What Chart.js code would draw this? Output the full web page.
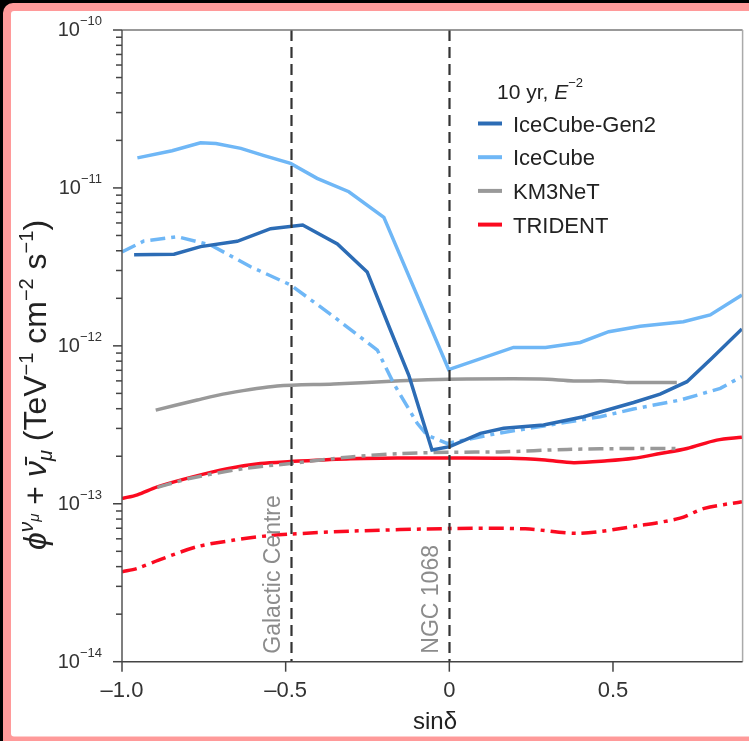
<!DOCTYPE html>
<html>
<head>
<meta charset="utf-8">
<script src="https://cdn.jsdelivr.net/npm/chart.js@4/dist/chart.umd.min.js"></script>
<style>
  html, body { margin: 0; padding: 0; background: #000; overflow: hidden; }
  #myChart { position: absolute; left: 0; top: 0; }
</style>
</head>
<body>
<canvas id="myChart" width="749" height="741"></canvas>
<script>
// axis ticks
const xTicks = [-1, -0.5, 0, 0.5];
const xTickLabels = ['–1.0', '–0.5', '0', '0.5'];
const yDecades = [-14, -13, -12, -11, -10];

// source markers (sin of declination)
const galacticCentre = -0.485;
const ngc1068 = 0;

// IceCube-Gen2
const gen2Sin = [-0.963, -0.841, -0.760, -0.648, -0.546, -0.448, -0.342, -0.251, -0.180, -0.124, -0.053, 0.001, 0.095, 0.166, 0.288, 0.410, 0.563, 0.644, 0.726, 0.802, 0.894];
const gen2Flux = [3.78e-12, 3.80e-12, 4.25e-12, 4.59e-12, 5.52e-12, 5.82e-12, 4.42e-12, 2.94e-12, 1.26e-12, 6.53e-13, 2.19e-13, 2.30e-13, 2.79e-13, 3.01e-13, 3.15e-13, 3.56e-13, 4.38e-13, 4.95e-13, 5.93e-13, 8.34e-13, 1.28e-12];

// IceCube (solid + dash-dot)
const icecubeSin = [-0.953, -0.847, -0.760, -0.713, -0.637, -0.566, -0.485, -0.404, -0.307, -0.200, -0.002, 0.196, 0.294, 0.400, 0.487, 0.583, 0.715, 0.797, 0.894];
const icecubeFlux = [1.55e-11, 1.72e-11, 1.93e-11, 1.91e-11, 1.78e-11, 1.60e-11, 1.43e-11, 1.15e-11, 9.46e-12, 6.52e-12, 7.08e-13, 9.77e-13, 9.77e-13, 1.05e-12, 1.23e-12, 1.33e-12, 1.42e-12, 1.57e-12, 2.10e-12];
const icecubeDdSin = [-1.0, -0.933, -0.831, -0.729, -0.607, -0.485, -0.353, -0.220, -0.170, -0.098, -0.068, -0.007, 0.156, 0.278, 0.461, 0.562, 0.706, 0.828, 0.894];
const icecubeDdFlux = [3.93e-12, 4.61e-12, 4.91e-12, 4.35e-12, 3.17e-12, 2.43e-12, 1.53e-12, 9.40e-13, 5.78e-13, 3.23e-13, 2.72e-13, 2.41e-13, 2.81e-13, 3.08e-13, 3.56e-13, 3.98e-13, 4.54e-13, 5.38e-13, 6.40e-13];

// KM3NeT (solid + dash-dot)
const km3Sin = [-0.897, -0.770, -0.678, -0.526, -0.353, -0.149, -0.002, 0.278, 0.380, 0.482, 0.543, 0.695];
const km3Flux = [3.92e-13, 4.54e-13, 5.00e-13, 5.56e-13, 5.73e-13, 6.01e-13, 6.14e-13, 6.17e-13, 6.00e-13, 6.00e-13, 5.87e-13, 5.87e-13];
const km3DdSin = [-0.892, -0.790, -0.628, -0.485, -0.302, -0.149, 0.001, 0.156, 0.360, 0.563, 0.695];
const km3DdFlux = [1.27e-13, 1.45e-13, 1.67e-13, 1.80e-13, 1.98e-13, 2.08e-13, 2.12e-13, 2.13e-13, 2.21e-13, 2.24e-13, 2.24e-13];

// TRIDENT (solid + dash-dot)
const tridentSin = [-1.0, -0.953, -0.892, -0.790, -0.678, -0.577, -0.485, -0.302, -0.149, 0.001, 0.187, 0.293, 0.380, 0.482, 0.563, 0.644, 0.726, 0.817, 0.894];
const tridentFlux = [1.08e-13, 1.14e-13, 1.28e-13, 1.47e-13, 1.67e-13, 1.80e-13, 1.85e-13, 1.93e-13, 1.95e-13, 1.95e-13, 1.94e-13, 1.89e-13, 1.82e-13, 1.87e-13, 1.94e-13, 2.08e-13, 2.24e-13, 2.53e-13, 2.64e-13];
const tridentDdSin = [-1.0, -0.953, -0.888, -0.770, -0.658, -0.556, -0.485, -0.302, 0.001, 0.232, 0.397, 0.589, 0.705, 0.779, 0.894];
const tridentDdFlux = [3.71e-14, 3.90e-14, 4.40e-14, 5.35e-14, 5.89e-14, 6.27e-14, 6.43e-14, 6.71e-14, 6.97e-14, 6.94e-14, 6.50e-14, 7.33e-14, 8.11e-14, 9.35e-14, 1.03e-13];

const legendNames = ['IceCube-Gen2', 'IceCube', 'KM3NeT', 'TRIDENT'];
const colors = ['#2c6cb5', '#6fb7f6', '#999999', '#fb0a20'];

const FONT = '"Liberation Sans", Arial, sans-serif';
const DASHDOT = [15, 6, 4, 6];

function pts(xs, ys) {
  return xs.map((v, i) => ({x: v, y: ys[i]}));
}

function line(label, xs, ys, color, dashed, smooth) {
  return {
    label: label,
    data: pts(xs, ys),
    borderColor: color,
    borderWidth: 3.5,
    borderDash: dashed ? DASHDOT : [],
    pointRadius: 0,
    fill: false,
    tension: smooth ? 0.3 : 0,
    borderCapStyle: 'butt'
  };
}

// text made of runs with different sizes / raise
function richText(ctx, parts, x, y, align) {
  let w = 0;
  parts.forEach(p => {
    ctx.font = (p.italic ? 'italic ' : '') + p.size + 'px ' + FONT;
    p.w = ctx.measureText(p.t).width;
    w += p.w;
  });
  let cx = align === 'right' ? x - w : align === 'center' ? x - w / 2 : x;
  parts.forEach(p => {
    ctx.font = (p.italic ? 'italic ' : '') + p.size + 'px ' + FONT;
    ctx.fillText(p.t, cx, y - (p.rise || 0));
    cx += p.w;
  });
}

function roundRect(ctx, x, y, w, h, r) {
  ctx.beginPath();
  ctx.moveTo(x + r, y);
  ctx.lineTo(x + w, y);
  ctx.lineTo(x + w, y + h);
  ctx.lineTo(x + r, y + h);
  ctx.arcTo(x, y + h, x, y + h - r, r);
  ctx.lineTo(x, y + r);
  ctx.arcTo(x, y, x + r, y, r);
  ctx.closePath();
  ctx.fill();
}

// black page, pink rounded frame, white panel
const backdrop = {
  id: 'backdrop',
  beforeDraw(chart) {
    const {ctx, width, height} = chart;
    ctx.save();
    ctx.fillStyle = '#000';
    ctx.fillRect(0, 0, width, height);
    ctx.fillStyle = '#ff9a9a';
    roundRect(ctx, 3, 3, width + 20, height + 6, 10);
    ctx.fillStyle = '#fff';
    roundRect(ctx, 11, 11, width + 20, height - 11 - 4.5, 3);
    ctx.restore();
  }
};

const decor = {
  id: 'decor',
  afterDatasetsDraw(chart) {
    const {ctx, chartArea: a, scales: {x, y}} = chart;
    ctx.save();
    // vertical markers
    ctx.strokeStyle = '#333';
    ctx.lineWidth = 2.2;
    ctx.setLineDash([11, 6]);
    [galacticCentre, ngc1068].forEach(v => {
      const px = Math.round(x.getPixelForValue(v)) + 0.5;
      ctx.beginPath();
      ctx.moveTo(px, a.top);
      ctx.lineTo(px, a.bottom);
      ctx.stroke();
    });
    ctx.setLineDash([]);

    // frame of the plot
    ctx.lineWidth = 1.5;
    ctx.strokeStyle = '#777';
    ctx.beginPath(); ctx.moveTo(a.left, a.top); ctx.lineTo(a.right, a.top); ctx.stroke();
    ctx.strokeStyle = '#aaa';
    ctx.beginPath(); ctx.moveTo(a.right, a.top); ctx.lineTo(a.right, a.bottom); ctx.stroke();
    ctx.strokeStyle = '#555';
    ctx.beginPath(); ctx.moveTo(a.left, a.top); ctx.lineTo(a.left, a.bottom); ctx.stroke();
    ctx.strokeStyle = '#444';
    ctx.beginPath(); ctx.moveTo(a.left, a.bottom); ctx.lineTo(a.right, a.bottom); ctx.stroke();

    // y tick marks (major + minor)
    ctx.strokeStyle = '#444';
    y.ticks.forEach(t => {
      const py = y.getPixelForValue(t.value);
      const len = t.major ? 9 : 6;
      ctx.beginPath(); ctx.moveTo(a.left - len, py); ctx.lineTo(a.left, py); ctx.stroke();
    });
    // x tick marks
    x.ticks.forEach(t => {
      const px = x.getPixelForValue(t.value);
      ctx.beginPath(); ctx.moveTo(px, a.bottom); ctx.lineTo(px, a.bottom + 10); ctx.stroke();
    });

    // tick labels
    ctx.fillStyle = '#333';
    ctx.textBaseline = 'alphabetic';
    ctx.textAlign = 'center';
    ctx.font = '22px ' + FONT;
    x.ticks.forEach((t, i) => {
      ctx.fillText(xTickLabels[i], x.getPixelForValue(t.value), a.bottom + 35);
    });
    ctx.textAlign = 'left';
    yDecades.forEach(d => {
      const py = y.getPixelForValue(Math.pow(10, d));
      richText(ctx, [{t: '10', size: 20}, {t: '−' + Math.abs(d), size: 13, rise: 11}], 102, py + 6, 'right');
    });

    // axis titles
    ctx.fillStyle = '#222';
    richText(ctx, [{t: 'sinδ', size: 24}], 435, 729, 'center');
    ctx.save();
    ctx.translate(46, 385);
    ctx.rotate(-Math.PI / 2);
    richText(ctx, [
      {t: 'ϕ', size: 32, italic: true},
      {t: 'ν', size: 21, italic: true, rise: 13},
      {t: 'μ', size: 15, italic: true, rise: 7},
      {t: ' + ', size: 32},
      {t: 'ν̄', size: 32, italic: true},
      {t: 'μ', size: 20, italic: true, rise: -6},
      {t: ' (TeV', size: 32},
      {t: '−1', size: 20, rise: 13},
      {t: ' cm', size: 32},
      {t: '−2', size: 20, rise: 13},
      {t: ' s', size: 32},
      {t: '−1', size: 20, rise: 13},
      {t: ')', size: 32}
    ], 0, 0, 'center');
    ctx.restore();

    // marker labels
    ctx.fillStyle = '#8c8c8c';
    ctx.font = '23px ' + FONT;
    [[galacticCentre, 'Galactic Centre'], [ngc1068, 'NGC 1068']].forEach(m => {
      ctx.save();
      ctx.translate(x.getPixelForValue(m[0]) - 11, a.bottom - 8);
      ctx.rotate(-Math.PI / 2);
      ctx.fillText(m[1], 0, 0);
      ctx.restore();
    });

    // legend
    ctx.fillStyle = '#222';
    richText(ctx, [{t: '10 yr, ', size: 21}, {t: 'E', size: 21, italic: true}, {t: '−2', size: 13, rise: 12}], 497, 99, 'left');
    legendNames.forEach((name, i) => {
      const ly = 123.5 + i * 33.7;
      ctx.strokeStyle = colors[i];
      ctx.lineWidth = 4;
      ctx.beginPath(); ctx.moveTo(478, ly); ctx.lineTo(502, ly); ctx.stroke();
      ctx.font = '22px ' + FONT;
      ctx.fillText(name, 513, ly + 8);
    });
    ctx.restore();
  }
};

const ctx = document.getElementById('myChart');

new Chart(ctx, {
  type: 'line',
  data: {
    datasets: [
      line('IceCube-Gen2', gen2Sin, gen2Flux, colors[0], false, false),
      line('IceCube', icecubeSin, icecubeFlux, colors[1], false, false),
      line('IceCube dash-dot', icecubeDdSin, icecubeDdFlux, colors[1], true, false),
      line('KM3NeT', km3Sin, km3Flux, colors[2], false, true),
      line('KM3NeT dash-dot', km3DdSin, km3DdFlux, colors[2], true, true),
      line('TRIDENT', tridentSin, tridentFlux, colors[3], false, true),
      line('TRIDENT dash-dot', tridentDdSin, tridentDdFlux, colors[3], true, true)
    ]
  },
  options: {
    responsive: false,
    animation: false,
    events: [],
    layout: {padding: {left: 0, top: 30, right: 6.4, bottom: 0}},
    plugins: {legend: false, tooltip: {enabled: false}},
    scales: {
      x: {
        type: 'linear',
        min: -1,
        max: 0.896,
        grid: {display: false},
        border: {display: false},
        ticks: {display: false},
        afterBuildTicks: s => { s.ticks = xTicks.map(v => ({value: v})); },
        afterFit: s => { s.height = 79.3; }
      },
      y: {
        type: 'logarithmic',
        min: Math.pow(10, yDecades[0]),
        max: Math.pow(10, yDecades[yDecades.length - 1]),
        grid: {display: false},
        border: {display: false},
        ticks: {display: false},
        afterBuildTicks: s => {
          const t = [];
          yDecades.forEach((d, i) => {
            if (i === yDecades.length - 1) { t.push({value: Math.pow(10, d), major: true}); return; }
            for (let m = 1; m < 10; m++) t.push({value: m * Math.pow(10, d), major: m === 1});
          });
          s.ticks = t;
        },
        afterFit: s => { s.width = 122; }
      }
    }
  },
  plugins: [backdrop, decor]
});
</script>
</body>
</html>
